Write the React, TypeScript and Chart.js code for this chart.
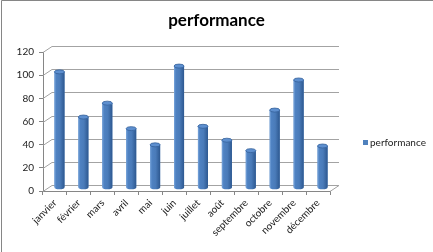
import React, { useEffect, useRef } from 'react';
import { Chart, registerables } from 'chart.js';

Chart.register(...registerables);

const categories = ['janvier', 'février', 'mars', 'avril', 'mai', 'juin', 'juillet', 'août', 'septembre', 'octobre', 'novembre', 'décembre'];
const performance = [100, 61, 73, 51, 37, 105, 53, 41, 32, 67, 93, 36];
const seriesLabel = 'performance';
const chartTitle = 'performance';
const yMin = 0;
const yMax = 120;
const yStep = 20;

const DX = 9; // depth offset of back wall
const DY = 6;
const BX = 4.5; // bar offset (middle depth)
const BY = -3.3;
const BAR_COLOR = '#4F81BD';
const GRID_COLOR = '#a3a3a3';
const AXIS_COLOR = '#868686';
const FONT = 'Lato, "Liberation Sans", sans-serif';

export default function App() {
  const ref = useRef<HTMLCanvasElement | null>(null);

  useEffect(() => {
    if (!ref.current) return;

    const depthPlugin = {
      id: 'depth',
      beforeDatasetsDraw(chart: any) {
        const { ctx, chartArea: a, scales } = chart;
        const y = scales.y;
        ctx.save();
        ctx.strokeStyle = GRID_COLOR;
        ctx.lineWidth = 1;
        y.ticks.forEach((t: any) => {
          const py = Math.round(y.getPixelForValue(t.value)) + 0.5;
          ctx.beginPath();
          ctx.moveTo(a.left, py);
          ctx.lineTo(a.left + DX, py - DY);
          ctx.lineTo(a.right + DX, py - DY);
          ctx.stroke();
        });
        const by = Math.round(y.getPixelForValue(0)) + 0.5;
        ctx.beginPath();
        ctx.moveTo(a.right, by);
        ctx.lineTo(a.right + DX, by - DY);
        ctx.stroke();
        ctx.restore();
        ctx.save();
        ctx.translate(BX, BY);
      },
      afterDatasetsDraw(chart: any) {
        const { ctx } = chart;
        const meta = chart.getDatasetMeta(0);
        meta.data.forEach((bar: any) => {
          const { x, y, base, width } = bar.getProps(['x', 'y', 'base', 'width'], true);
          const l = x - width / 2;
          const r = x + width / 2;
          const rx = width / 2;
          const ry = 2;
          const g = ctx.createLinearGradient(l, 0, r, 0);
          g.addColorStop(0, '#7aa6dc');
          g.addColorStop(0.18, '#4f82c2');
          g.addColorStop(0.55, '#4a7bb9');
          g.addColorStop(1, '#2d5890');
          ctx.fillStyle = g;
          ctx.beginPath();
          ctx.moveTo(l, y);
          ctx.lineTo(l, base);
          ctx.ellipse(x, base, rx, ry, 0, Math.PI, 0, true);
          ctx.lineTo(r, y);
          ctx.closePath();
          ctx.fill();
          ctx.beginPath();
          ctx.ellipse(x, y, rx, ry, 0, 0, Math.PI * 2);
          ctx.fillStyle = '#5d8fcf';
          ctx.fill();
          ctx.strokeStyle = '#35619a';
          ctx.lineWidth = 0.8;
          ctx.stroke();
        });
        ctx.restore();
      },
      afterDraw(chart: any) {
        const { ctx } = chart;
        ctx.save();
        ctx.strokeStyle = AXIS_COLOR;
        ctx.lineWidth = 1;
        ctx.beginPath();
        ctx.moveTo(1.5, 252);
        ctx.lineTo(1.5, 0.5);
        ctx.lineTo(433, 0.5);
        ctx.stroke();
        // title
        ctx.fillStyle = '#000';
        ctx.font = `bold 17px ${FONT}`;
        ctx.textAlign = 'center';
        ctx.textBaseline = 'middle';
        ctx.fillText(chartTitle, 216.5, 20.5);
        // legend
        const ds = chart.data.datasets[0];
        ctx.fillStyle = BAR_COLOR;
        ctx.fillRect(363, 140, 5, 5);
        ctx.fillStyle = '#222';
        ctx.font = `10px ${FONT}`;
        ctx.textBaseline = 'middle';
        ctx.textAlign = 'left';
        ctx.fillText(ds.label, 370, 142.5);
        ctx.restore();
      },
    };

    const chart = new Chart(ref.current, {
      type: 'bar',
      data: {
        labels: categories,
        datasets: [
          {
            label: seriesLabel,
            data: performance,
            backgroundColor: BAR_COLOR,
            categoryPercentage: 1,
            barPercentage: 0.42,
            clip: false as any,
          },
        ],
      },
      options: {
        animation: false,
        responsive: true,
        maintainAspectRatio: false,
        layout: { padding: { left: 0, right: 103, top: 52, bottom: 0 } },
        plugins: {
          legend: { display: false },
          tooltip: { enabled: false },
          title: { display: false },
        },
        scales: {
          x: {
            afterFit: (s: any) => { s.height = 61; },
            grid: { offset: true, drawOnChartArea: false, drawTicks: true, tickLength: 4, color: AXIS_COLOR },
            border: { display: true, color: AXIS_COLOR },
            ticks: {
              color: '#222',
              font: { family: FONT, size: 10 },
              minRotation: 45,
              maxRotation: 45,
              autoSkip: false,
              padding: 2,
            },
          },
          y: {
            min: yMin,
            max: yMax,
            afterFit: (s: any) => { s.width = 43; },
            grid: { drawOnChartArea: false, drawTicks: true, tickLength: 4, color: AXIS_COLOR },
            border: { display: true, color: AXIS_COLOR },
            ticks: {
              stepSize: yStep,
              color: '#222',
              font: { family: FONT, size: 10 },
              padding: 5,
            },
          },
        },
      },
      plugins: [depthPlugin],
    });

    return () => chart.destroy();
  }, []);

  return (
    <div style={{ position: 'fixed', left: 0, top: 0, width: 433, height: 252, background: '#fff' }}>
      <canvas ref={ref} />
    </div>
  );
}
